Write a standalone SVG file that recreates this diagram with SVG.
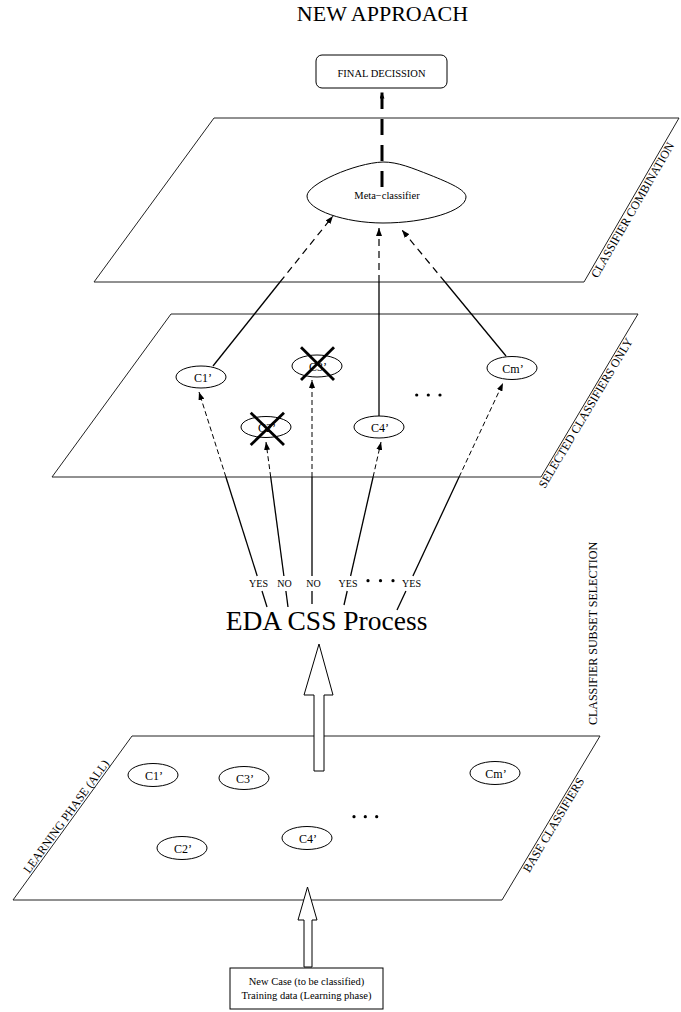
<svg xmlns="http://www.w3.org/2000/svg" width="681" height="1012" viewBox="0 0 681 1012">
<style>
text{font-family:"Liberation Serif","Times New Roman",serif;fill:#000}
.plane{fill:none;stroke:#222;stroke-width:1}
.node ellipse{fill:#fff;stroke:#000;stroke-width:1}
.nl{font-size:12px;text-anchor:middle}
.lab{font-size:12px;text-anchor:middle}
.sol{stroke:#000;stroke-width:1.3;fill:none}
.dsh{stroke:#000;stroke-width:1;fill:none;stroke-dasharray:5 3}
.dsh2{stroke:#000;stroke-width:1.2;fill:none;stroke-dasharray:7 5}
.thick{stroke:#000;stroke-width:3;fill:none;stroke-dasharray:16 10}
.cross{stroke:#000;stroke-width:2.8}
.yn{font-size:10px;text-anchor:middle}
.dot{fill:#000}
.hollow{fill:#fff;stroke:#000;stroke-width:1}
</style>
<defs>
<marker id="ah" viewBox="0 0 8 6" refX="8" refY="3" markerWidth="8" markerHeight="6" markerUnits="userSpaceOnUse" orient="auto"><path d="M0,0 L8,3 L0,6 z" fill="#000" stroke="none"/></marker>
<marker id="ahs" viewBox="0 0 6 5" refX="6" refY="2.5" markerWidth="6" markerHeight="5" markerUnits="userSpaceOnUse" orient="auto"><path d="M0,0 L6,2.5 L0,5 z" fill="#000" stroke="none"/></marker>
</defs>

<text x="382.5" y="21" style="font-size:22px;text-anchor:middle">NEW APPROACH</text>

<g id="plane-combination">
<polygon class="plane" points="94,282 214,118 679,118 584,282"/>
<text class="lab" transform="translate(636,212) rotate(-60)">CLASSIFIER COMBINATION</text>
</g>
<g id="plane-selected">
<polygon class="plane" points="52,477 171,314 638,314 541,477"/>
<text class="lab" transform="translate(589,415) rotate(-59.2)">SELECTED CLASSIFIERS ONLY</text>
</g>
<g id="plane-base">
<polygon class="plane" points="13,900 132,736 600,736 502,900"/>
<text class="lab" transform="translate(557,827) rotate(-59.1)">BASE CLASSIFIERS</text>
<text class="lab" transform="translate(69.4,818.8) rotate(-54)">LEARNING PHASE (ALL)</text>
</g>
<g id="label-subset">
<text class="lab" transform="translate(597,633.5) rotate(-90)">CLASSIFIER SUBSET SELECTION</text>
</g>

<g id="connectors">
<line class="thick" x1="382" y1="187" x2="382" y2="99"/>
<line x1="382" y1="99" x2="382" y2="92.5" stroke="#000" stroke-width="3" marker-end="url(#ahs)"/>
<!-- to meta-classifier -->
<line class="sol" x1="213" y1="366" x2="280" y2="282"/>
<line class="dsh2" x1="280" y1="282" x2="333" y2="216" marker-end="url(#ah)"/>
<line class="sol" x1="379" y1="416" x2="379" y2="282"/>
<line class="dsh2" x1="379" y1="282" x2="379" y2="228" marker-end="url(#ah)"/>
<line class="sol" x1="506" y1="356" x2="445" y2="282"/>
<line class="dsh2" x1="445" y1="282" x2="402" y2="230" marker-end="url(#ah)"/>
<!-- from EDA -->
<line class="sol" x1="267" y1="607" x2="262" y2="591"/>
<line class="sol" x1="257.2" y1="576" x2="225.9" y2="477"/>
<line class="dsh" x1="225.9" y1="477" x2="199" y2="392" marker-end="url(#ah)"/>
<line class="sol" x1="288" y1="607" x2="285.9" y2="591"/>
<line class="sol" x1="283.9" y1="576" x2="270.7" y2="477"/>
<line class="dsh" x1="270.7" y1="477" x2="266" y2="442" marker-end="url(#ah)"/>
<line class="sol" x1="312" y1="604" x2="312" y2="591"/>
<line class="sol" x1="312" y1="576" x2="312" y2="477"/>
<line class="dsh" x1="312" y1="477" x2="312" y2="380" marker-end="url(#ah)"/>
<line class="sol" x1="344" y1="605" x2="347.2" y2="591"/>
<line class="sol" x1="350.6" y1="576" x2="373.1" y2="477"/>
<line class="dsh" x1="373.1" y1="477" x2="381" y2="442" marker-end="url(#ah)"/>
<line class="sol" x1="397" y1="610" x2="405.9" y2="591"/>
<line class="sol" x1="412.9" y1="576" x2="459.1" y2="477"/>
<line class="dsh" x1="459.1" y1="477" x2="503" y2="383" marker-end="url(#ah)"/>
<text class="yn" x="258.5" y="587">YES</text>
<text class="yn" x="284.5" y="587">NO</text>
<text class="yn" x="313.5" y="587">NO</text>
<text class="yn" x="348" y="587">YES</text>
<circle class="dot" cx="368" cy="580.7" r="1.6"/>
<circle class="dot" cx="380.5" cy="580.7" r="1.6"/>
<circle class="dot" cx="393" cy="580.7" r="1.6"/>
<text class="yn" x="411.5" y="587">YES</text>
<!-- hollow arrows -->
<polygon class="hollow" points="319,644 333,695 324,695 324,771 314,771 314,695 304,695"/>
<polygon class="hollow" points="307.5,887 317,920 312,920 312,967 304,967 304,920 298,920"/>
</g>

<g id="final-decision">
<rect x="316" y="55" width="131" height="33" rx="6" fill="#fff" stroke="#000" stroke-width="1"/>
<text x="381.5" y="76.5" style="font-size:10.5px;text-anchor:middle">FINAL DECISSION</text>
</g>

<g id="meta-classifier">
<path d="M307,196 C307,184 355,163 383,162 C398,162 412,168 430,175 C450,183 466,190 466,197 C466,211 425,223 383,223 C345,223 307,210 307,196 Z" fill="none" stroke="#000" stroke-width="1"/>
<text x="387" y="199" style="font-size:10.5px;text-anchor:middle">Meta−classifier</text>
</g>

<g id="eda-css">
<text x="326.5" y="630" style="font-size:27.5px;text-anchor:middle">EDA CSS Process</text>
</g>

<g id="sel-c1" class="node"><ellipse cx="201" cy="377" rx="25" ry="11"/><text class="nl" x="203" y="381.5">C1’</text></g>
<g id="sel-c2" class="node"><ellipse cx="266" cy="427" rx="25" ry="10.5"/><text class="nl" x="267" y="431.5">C2’</text>
<line class="cross" x1="250.7" y1="412.7" x2="284" y2="445"/><line class="cross" x1="250.7" y1="445" x2="284" y2="412.7"/></g>
<g id="sel-c3" class="node"><ellipse cx="317" cy="366" rx="25" ry="11"/><text class="nl" x="318" y="370.5">C3’</text>
<line class="cross" x1="301" y1="347.3" x2="334" y2="380"/><line class="cross" x1="301" y1="380" x2="334" y2="347.3"/></g>
<g id="sel-c4" class="node"><ellipse cx="379" cy="427" rx="25" ry="11"/><text class="nl" x="380" y="431.5">C4’</text></g>
<g id="sel-cm" class="node"><ellipse cx="512" cy="368" rx="25" ry="11.5"/><text class="nl" x="513" y="372.5">Cm’</text></g>
<g id="sel-dots"><circle class="dot" cx="416.7" cy="395" r="1.6"/><circle class="dot" cx="428.3" cy="395" r="1.6"/><circle class="dot" cx="440" cy="395" r="1.6"/></g>

<g id="base-c1" class="node"><ellipse cx="153" cy="775" rx="25" ry="11.5"/><text class="nl" x="154" y="779.5">C1’</text></g>
<g id="base-c3" class="node"><ellipse cx="244" cy="778" rx="25" ry="11.5"/><text class="nl" x="245" y="782.5">C3’</text></g>
<g id="base-c2" class="node"><ellipse cx="182" cy="848" rx="25" ry="11.5"/><text class="nl" x="183" y="852.5">C2’</text></g>
<g id="base-c4" class="node"><ellipse cx="307" cy="838" rx="25" ry="11.5"/><text class="nl" x="308" y="842.5">C4’</text></g>
<g id="base-cm" class="node"><ellipse cx="495" cy="773" rx="25" ry="11.5"/><text class="nl" x="496" y="777.5">Cm’</text></g>
<g id="base-dots"><circle class="dot" cx="354" cy="816.7" r="1.6"/><circle class="dot" cx="365.3" cy="816.7" r="1.6"/><circle class="dot" cx="376.7" cy="816.7" r="1.6"/></g>

<g id="new-case">
<rect x="230" y="968" width="153" height="41" fill="#fff" stroke="#000" stroke-width="1"/>
<text x="306.5" y="985" style="font-size:10.5px;text-anchor:middle">New Case (to be classified)</text>
<text x="306.5" y="998.5" style="font-size:10.5px;text-anchor:middle">Training data (Learning phase)</text>
</g>
</svg>
